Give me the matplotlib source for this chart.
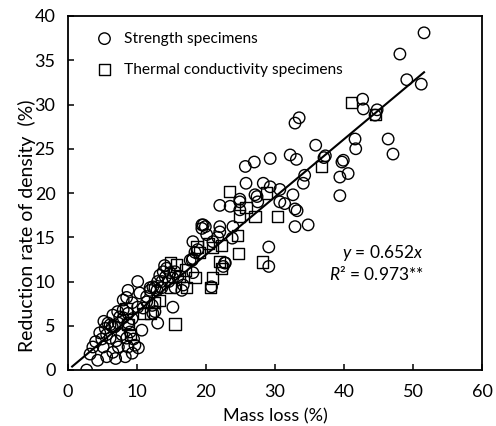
import matplotlib
matplotlib.use("Agg")
import matplotlib.pyplot as plt
import numpy as np

plt.rcParams['font.family'] = ['Lato', 'DejaVu Sans']
plt.rcParams['mathtext.fontset'] = 'custom'
plt.rcParams['mathtext.rm'] = 'Lato'
plt.rcParams['mathtext.it'] = 'Lato:italic'

# Strength specimens (mass loss %, reduction rate of density %)
strength_x = [51.6, 48.1, 49.1, 51.2, 42.7, 42.8, 44.8, 44.5, 41.6, 41.7, 46.4, 47.1, 35.9, 37.3, 37.1,
              39.9, 39.7, 40.6, 39.4, 39.4, 34.3, 34.1, 32.9, 33.5, 25.7, 27.0, 29.3, 32.2, 33.1, 25.8,
              28.3, 29.3, 30.7, 27.1, 27.4, 24.9, 32.6, 22.0, 23.5, 24.9, 30.7, 31.4, 27.5, 32.9, 33.2,
              32.9, 34.8, 19.6, 22.0, 23.9, 29.1, 29.1, 22.8, 22.5, 20.8, 24.9,
              18.1, 19.4, 19.9, 22.0, 21.0, 21.7, 18.8, 18.4, 18.0, 17.7, 18.1, 23.8, 20.1, 22.7, 18.1,
              16.5, 15.2, 19.4,
              13.3, 13.8, 14.3, 14.8, 15.2, 15.5, 15.9, 14.1, 13.6, 14.6, 13.0, 14.0, 16.7, 15.5, 13.6,
              12.9, 12.3, 11.9, 12.6, 10.4, 10.1, 8.7, 11.4, 12.2, 12.6, 12.3, 13.0, 10.7, 10.1, 10.9,
              9.3, 8.5, 8.0, 8.0, 8.7, 11.9, 11.4,
              4.3, 5.6, 8.3, 9.3, 9.7, 3.6, 5.1, 6.5, 7.3, 8.7, 4.6, 5.4, 6.1, 6.8, 7.8, 8.5, 9.0, 6.1,
              5.6, 5.8, 6.4, 7.3, 8.0, 8.7, 2.7, 4.0, 4.9, 7.0, 9.5, 7.5, 9.3, 3.2, 6.9, 10.2, 7.2, 6.5, 5.2]
strength_y = [38.1, 35.7, 32.8, 32.3, 30.6, 29.5, 29.4, 28.8, 26.1, 25.0, 26.1, 24.4, 25.4, 24.2, 24.0,
              23.7, 23.5, 22.2, 21.8, 19.7, 22.0, 21.1, 27.9, 28.5, 23.0, 23.5, 23.9, 24.3, 23.8, 21.1,
              21.1, 20.7, 20.4, 19.8, 19.6, 19.3, 19.8, 18.6, 18.5, 19.0, 19.0, 18.8, 19.0, 18.2, 18.0,
              16.2, 16.4, 16.4, 16.2, 16.2, 13.9, 11.7, 12.1, 11.7, 9.4, 18.1,
              14.5, 16.4, 16.2, 15.6, 14.5, 15.0, 13.6, 13.3, 12.4, 12.4, 12.6, 14.9, 15.3, 12.1, 11.0,
              9.0, 7.1, 16.0,
              10.7, 11.1, 11.5, 11.0, 10.4, 11.1, 10.5, 10.5, 10.0, 10.0, 10.0, 11.8, 9.6, 9.3, 9.3,
              9.0, 9.4, 9.3, 9.3, 8.7, 10.0, 9.0, 7.7, 7.3, 6.6, 6.4, 5.3, 4.5, 7.1, 7.0,
              7.6, 8.2, 7.9, 6.8, 6.4, 9.0, 8.3,
              1.1, 1.5, 1.5, 1.9, 2.8, 2.6, 2.6, 2.0, 2.6, 2.6, 4.2, 4.7, 5.1, 4.9, 4.0, 3.6, 4.3, 3.6,
              4.0, 5.3, 4.9, 5.3, 5.9, 5.3, 0.0, 3.2, 3.5, 3.3, 3.5, 6.0, 5.8, 1.8, 1.3, 2.5, 6.6, 6.2, 5.5]

# Thermal conductivity specimens
thermal_x = [41.1, 44.6, 36.8, 23.4, 28.8, 24.9, 27.1, 30.3, 24.6, 28.2, 24.7, 21.0, 20.7, 21.0, 22.3,
             15.5, 14.8, 15.7, 17.0, 18.4, 19.1, 18.7, 20.3, 22.3, 17.2, 14.8, 13.3, 10.9, 11.9, 8.7,
             9.0, 21.9, 25.8, 16.2, 12.5, 8.4]
thermal_y = [30.2, 28.9, 23.0, 20.2, 20.0, 17.4, 17.3, 17.3, 15.2, 12.2, 13.2, 10.4, 9.3, 13.8, 14.1,
             5.2, 12.1, 11.9, 11.3, 10.5, 13.3, 13.9, 14.3, 11.5, 9.3, 9.3, 7.9, 6.4, 6.4, 5.1,
             4.0, 12.3, 18.4, 10.6, 7.6, 6.9]

slope = 0.652
fit_range = [0.6, 51.6]
x_ticks = [0, 10, 20, 30, 40, 50, 60]
y_ticks = [0, 5, 10, 15, 20, 25, 30, 35, 40]

fig = plt.figure(figsize=(4.96, 4.26), dpi=100)
ax = fig.add_axes([68/496, 1-370/426, 414/496, 354/426])

ax.scatter(strength_x, strength_y, s=68, marker='o', facecolors='none', edgecolors='black',
           linewidths=1.0, label='Strength specimens', zorder=3)
ax.scatter(thermal_x, thermal_y, s=64, marker='s', facecolors='none', edgecolors='black',
           linewidths=1.0, label='Thermal conductivity specimens', zorder=3)
fx = np.array(fit_range)
ax.plot(fx, slope * fx, color='black', lw=1.5, zorder=4)

ax.set_xlim(0, 60)
ax.set_ylim(0, 40)
ax.set_xticks(x_ticks)
ax.set_yticks(y_ticks)
ax.tick_params(direction='in', length=4, width=1.1, labelsize=13, pad=9)
ax.tick_params(axis='x', pad=10)
for sp in ax.spines.values():
    sp.set_linewidth(1.3)

ax.set_xlabel('Mass loss (%)', fontsize=13, labelpad=6)
fig.text(27/496, 1-226/426, 'Reduction rate of density  (%)', rotation=90,
         ha='center', va='center', fontsize=14)

ax.legend(loc='upper left', bbox_to_anchor=(0.028, 0.982), frameon=False, fontsize=11.2,
          handletextpad=0.25, labelspacing=1.1, borderaxespad=0.2)

ax.text(0.86, 0.33, r'$y$ = 0.652$x$', transform=ax.transAxes, ha='right', va='center', fontsize=12.5)
ax.text(0.86, 0.272, r'$R$² = 0.973**', transform=ax.transAxes, ha='right', va='center', fontsize=12.5)

fig.savefig('out.png', dpi=100)
